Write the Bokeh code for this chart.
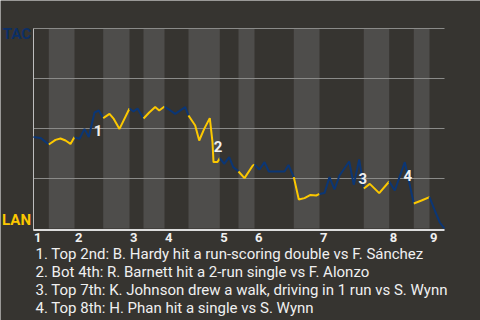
from bokeh.plotting import figure
from bokeh.models import Range1d
from bokeh.core.properties import value
from bokeh.embed import file_html
from bokeh.resources import INLINE

# ---- data ----
# game progress (x) and TAC win probability (y)
progress = [0, 7, 15.3, 22, 27, 32, 37, 41, 46, 51, 55.3, 61, 65.3, 69.7, 76, 80.3, 86,
            96, 100, 104, 110, 115.7, 121.7, 125.7, 131, 141.7, 151.7, 155, 161.7, 165.7,
            170.7, 176.3, 179, 180, 184, 186.3, 190.7, 195.7, 199.7, 204, 205, 211, 219.3,
            221, 226, 231, 235.3, 251, 255, 260.3, 265.3, 271, 277, 282.7, 286, 291, 296,
            301, 306, 315.7, 320.3, 325.7, 330.3, 336.3, 345.7, 355.7, 361.3, 371.3, 380.3,
            388, 396, 401.3, 406.3, 411]
win_prob = [0.457, 0.453, 0.42, 0.443, 0.45, 0.44, 0.423, 0.457, 0.448, 0.498, 0.457, 0.58,
            0.59, 0.552, 0.573, 0.548, 0.498, 0.60, 0.585, 0.60, 0.55, 0.58, 0.607, 0.59,
            0.61, 0.573, 0.607, 0.565, 0.515, 0.44, 0.498, 0.552, 0.432, 0.332, 0.332, 0.352,
            0.323, 0.357, 0.307, 0.29, 0.285, 0.252, 0.315, 0.32, 0.295, 0.332, 0.285, 0.285,
            0.318, 0.257, 0.145, 0.152, 0.168, 0.165, 0.173, 0.177, 0.257, 0.195, 0.265,
            0.335, 0.218, 0.345, 0.20, 0.223, 0.177, 0.235, 0.19, 0.332, 0.125, 0.14, 0.157,
            0.09, 0.03, 0.0]
# half-inning boundaries (top 1st, bottom 1st, top 2nd, ...), and game end
half_starts = [0, 15.3, 41, 69.7, 96, 110, 131, 155, 186.3, 205, 221, 260.3, 286, 330.3,
               355.7, 380.3, 396]
game_end = 411
innings = ["1", "2", "3", "4", "5", "6", "7", "8", "9"]
grid_levels = [0.25, 0.5, 0.75, 1.0]
event_ids = ["1", "2", "3", "4"]
event_x = [64.5, 184.5, 329.3, 374.2]
event_y = [0.4925, 0.4125, 0.251, 0.2635]
events = [
    "1. Top 2nd: B. Hardy hit a run-scoring double vs F. Sánchez",
    "2. Bot 4th: R. Barnett hit a 2-run single vs F. Alonzo",
    "3. Top 7th: K. Johnson drew a walk, driving in 1 run vs S. Wynn",
    "4. Top 8th: H. Phan hit a single vs S. Wynn",
]
team_top, team_bottom = "TAC", "LAN"

# ---- style ----
BG = "#363430"
BAND = "#4e4d4b"
BLUE = "#0b3675"
YELLOW = "#fcc800"
WHITE = "#f0f0f0"
FONT = value("Roboto")


def ypx(py):
    # page pixel row -> probability units (1.0 at row 28, 0.0 at row 228)
    return (228 - py) / 200.0


p = figure(width=480, height=320, output_backend="svg", toolbar_location=None,
           x_range=Range1d(-33, 447), y_range=Range1d(ypx(320), ypx(0)),
           min_border=0)
p.background_fill_color = BG
p.border_fill_color = BG
p.outline_line_color = None
p.axis.visible = False
p.grid.visible = False

# bands for bottom halves
ends = half_starts[1:] + [game_end]
bl = [half_starts[i] for i in range(1, len(half_starts), 2)]
br = [ends[i] for i in range(1, len(half_starts), 2)]
p.quad(left=bl, right=br, bottom=0, top=1, fill_color=BAND, line_color=None)

# horizontal grid lines
p.segment(x0=0, x1=game_end, y0=grid_levels, y1=grid_levels, line_color="#8a8a88", line_width=1)

# axes lines
p.segment(x0=[0], x1=[0], y0=[ypx(230)], y1=[1.0], line_color="#bdbdbd", line_width=1)
p.segment(x0=[0], x1=[game_end], y0=[ypx(229.5)], y1=[ypx(229.5)], line_color="#dcdcdc", line_width=2)

# inning tick labels
tick_pos = [half_starts[2 * i] + 4.3 for i in range(len(innings))]
p.text(x=tick_pos, y=ypx(237.2), text=innings, text_color=WHITE, text_font=FONT,
       text_font_style="bold", text_font_size="13px", text_align="center",
       text_baseline="middle")

# win-probability line, coloured by half-inning
xs, ys, cs = [], [], []
for i, s in enumerate(half_starts):
    e = ends[i]
    seg = [(x, y) for x, y in zip(progress, win_prob) if s - 1e-6 <= x <= e + 1e-6]
    xs.append([a for a, _ in seg])
    ys.append([b for _, b in seg])
    cs.append(BLUE if i % 2 == 0 else YELLOW)
p.multi_line(xs=xs, ys=ys, line_color=cs, line_width=2)

# event markers
p.text(x=event_x, y=event_y, text=event_ids, text_color=WHITE,
       text_font=FONT, text_font_style="bold", text_font_size="15px",
       text_align="center", text_baseline="middle")

# team labels
p.text(x=[-2.5], y=[ypx(33.5)], text=[team_top], text_color="#0c2f66",
       text_font=FONT, text_font_style="bold", text_font_size="15px",
       text_align="right", text_baseline="middle")
p.text(x=[-2.5], y=[ypx(219.5)], text=[team_bottom], text_color=YELLOW,
       text_font=FONT, text_font_style="bold", text_font_size="15px",
       text_align="right", text_baseline="middle")

# event descriptions
p.text(x=[2] * len(events), y=[ypx(253.7 + i * 18.05) for i in range(len(events))],
       text=events, text_color=WHITE, text_font=FONT, text_font_size="15px",
       text_baseline="middle")

open("out.html", "w").write(file_html(p, INLINE))
